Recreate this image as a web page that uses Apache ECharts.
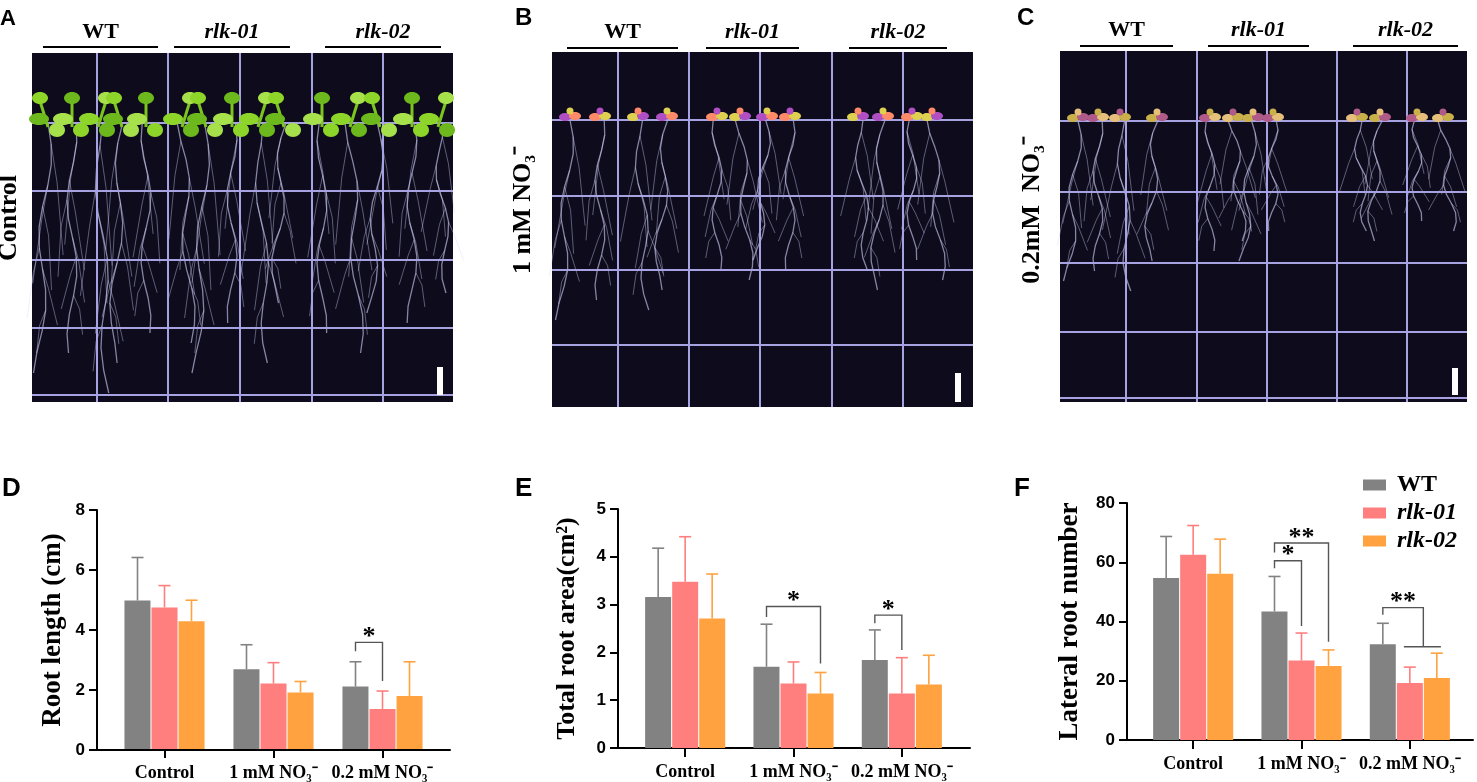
<!DOCTYPE html>
<html>
<head>
<meta charset="utf-8">
<script src="https://cdn.jsdelivr.net/npm/echarts@6/dist/echarts.min.js"></script>
<style>
    html, body { margin: 0; padding: 0; background: #fff; }
    #main { width: 1477px; height: 782px; }
</style>
</head>
<body>
<div id="main"></div>
<script>
    var categories = ['Control', '1 mM NO\u2083\u207B', '0.2 mM NO\u2083\u207B'];
    var genotypes = ['WT', 'rlk-01', 'rlk-02'];
    var colors = ['#828282', '#ff7f7f', '#ffa23f'];

    // D - root length (cm), mean and upper error
    var lenWT = [4.97, 2.67, 2.09], lenWTsd = [1.44, 0.82, 0.83];
    var len01 = [4.74, 2.19, 1.34], len01sd = [0.73, 0.70, 0.60];
    var len02 = [4.28, 1.89, 1.77], len02sd = [0.70, 0.37, 1.15];
    // [category, fromBar, toBar, top, leftEnd, rightEnd, footFrom, footTo, mark]
    var lenSig = [[2, 0, 1, 3.57, 3.27, 2.28, -1, -1, '*']];

    // E - total root area (cm2)
    var areaWT = [3.16, 1.70, 1.84], areaWTsd = [1.02, 0.89, 0.63];
    var area01 = [3.48, 1.35, 1.14], area01sd = [0.94, 0.45, 0.75];
    var area02 = [2.71, 1.14, 1.33], area02sd = [0.93, 0.44, 0.61];
    var areaSig = [[1, 0, 2, 2.96, 2.74, 1.77, -1, -1, '*'],
                   [2, 0, 1, 2.78, 2.61, 2.05, -1, -1, '*']];

    // F - lateral root number
    var latWT = [54.7, 43.4, 32.3], latWTsd = [14.0, 11.8, 7.1];
    var lat01 = [62.5, 26.8, 19.2], lat01sd = [9.9, 9.3, 5.4];
    var lat02 = [56.1, 25.0, 20.9], lat02sd = [11.7, 5.4, 8.4];
    var latSig = [[1, 0, 1, 60.5, 58.0, 38.5, -1, -1, '*'],
                  [1, 0, 2, 66.5, 63.3, 33.2, -1, -1, '**'],
                  [2, 0, 1.5, 44.7, 42.3, 31.5, 0.78, 2.15, '**']];

    var lenTicks = {max: 8, interval: 2};
    var areaTicks = {max: 5, interval: 1};
    var latTicks = {max: 80, interval: 20};

    var BAR_W = 26, STEP = 27;
    var serif = 'Liberation Serif, Times New Roman, serif';
    var sans = 'Liberation Sans, Arial, sans-serif';

    var panels = [
        {means: [lenWT, len01, len02], sds: [lenWTsd, len01sd, len02sd], sig: lenSig, ticks: lenTicks,
            name: 'Root length (cm)', nameSize: 27, gap: 30,
            axisGrid: {left: 97, top: 510, width: 353, height: 240}, barGrid: {left: 110, top: 510, width: 327, height: 240}},
        {means: [areaWT, area01, area02], sds: [areaWTsd, area01sd, area02sd], sig: areaSig, ticks: areaTicks,
            name: 'Total root area(cm\u00B2)', nameSize: 26, gap: 38,
            axisGrid: {left: 618, top: 509, width: 352, height: 239}, barGrid: {left: 631, top: 509, width: 325, height: 239}},
        {means: [latWT, lat01, lat02], sds: [latWTsd, lat01sd, lat02sd], sig: latSig, ticks: latTicks,
            name: 'Lateral root number', nameSize: 27, gap: 43,
            axisGrid: {left: 1127, top: 503, width: 346, height: 237}, barGrid: {left: 1139, top: 503, width: 325, height: 237}}
    ];

    var grids = [], xAxes = [], yAxes = [], series = [];

    panels.forEach(function (p, k) {
        var ga = 2 * k, gb = 2 * k + 1;
        grids.push(p.axisGrid, p.barGrid);

        xAxes.push({
            gridIndex: ga, type: 'value', min: 0, max: 1,
            axisLine: {show: true, onZero: false, lineStyle: {color: '#000', width: 2}},
            axisTick: {show: false}, axisLabel: {show: false}, splitLine: {show: false}
        });
        xAxes.push({
            gridIndex: gb, type: 'category', data: categories,
            axisLine: {show: false},
            axisTick: {show: true, alignWithLabel: true, length: 9, lineStyle: {color: '#000', width: 2}},
            axisLabel: {interval: 0, margin: 15, color: '#000', fontFamily: serif, fontWeight: 'bold', fontSize: 18}
        });

        yAxes.push({
            gridIndex: ga, type: 'value', min: 0, max: p.ticks.max, interval: p.ticks.interval,
            axisLine: {show: true, lineStyle: {color: '#000', width: 2}},
            axisTick: {show: true, length: 8, lineStyle: {color: '#000', width: 2}},
            axisLabel: {margin: 12, color: '#000', fontFamily: sans, fontWeight: 'bold', fontSize: 17},
            splitLine: {show: false},
            name: p.name, nameLocation: 'middle', nameRotate: 90, nameGap: p.gap,
            nameTextStyle: {color: '#000', fontFamily: serif, fontWeight: 'bold', fontSize: p.nameSize}
        });
        yAxes.push({gridIndex: gb, type: 'value', min: 0, max: p.ticks.max, show: false});

        genotypes.forEach(function (g, i) {
            series.push({
                name: g, type: 'bar', xAxisIndex: gb, yAxisIndex: gb,
                barWidth: BAR_W, barGap: '4%',
                itemStyle: {color: colors[i]},
                data: p.means[i]
            });
        });

        // error bars (upper whisker only)
        var errData = [];
        genotypes.forEach(function (g, i) {
            p.means[i].forEach(function (m, c) {
                errData.push([c, i, m, p.sds[i][c]]);
            });
        });
        series.push({
            type: 'custom', xAxisIndex: gb, yAxisIndex: gb, z: 3,
            encode: {x: 0, y: 2},
            data: errData,
            renderItem: function (params, api) {
                var i = api.value(1);
                var lo = api.coord([api.value(0), api.value(2)]);
                var hi = api.coord([api.value(0), api.value(2) + api.value(3)]);
                var x = lo[0] + (i - 1) * STEP;
                var st = {stroke: colors[i], lineWidth: 1.6, fill: 'none'};
                return {type: 'group', children: [
                    {type: 'line', shape: {x1: x, y1: lo[1], x2: x, y2: hi[1]}, style: st},
                    {type: 'line', shape: {x1: x - 6, y1: hi[1], x2: x + 6, y2: hi[1]}, style: st}
                ]};
            }
        });

        // significance brackets
        series.push({
            type: 'custom', xAxisIndex: gb, yAxisIndex: gb, z: 4,
            encode: {x: 0, y: 3},
            data: p.sig.map(function (b) { return b.slice(0, 8); }),
            renderItem: function (params, api) {
                var b = p.sig[params.dataIndex];
                var c0 = api.coord([b[0], b[3]]);
                var xl = c0[0] + (b[1] - 1) * STEP, xr = c0[0] + (b[2] - 1) * STEP;
                var yt = c0[1];
                var yl = api.coord([b[0], b[4]])[1], yr = api.coord([b[0], b[5]])[1];
                var st = {stroke: '#555', lineWidth: 1.4, fill: 'none'};
                var kids = [
                    {type: 'polyline', shape: {points: [[xl, yl], [xl, yt], [xr, yt], [xr, yr]]}, style: st},
                    {type: 'text', x: (xl + xr) / 2, y: yt - 5,
                        style: {text: b[8], fill: '#000', font: 'bold 26px ' + serif,
                            align: 'center', verticalAlign: 'middle', textAlign: 'center', textVerticalAlign: 'middle'}}
                ];
                if (b[6] >= 0) {
                    kids.push({type: 'line', shape: {x1: c0[0] + (b[6] - 1) * STEP, y1: yr, x2: c0[0] + (b[7] - 1) * STEP, y2: yr}, style: st});
                }
                return {type: 'group', children: kids};
            }
        });
    });

    // ---- photo panels (A, B, C) drawn as decoration ----
    var photos = [
        {x: 32, y: 53, w: 421, h: 349, vx: [97, 168, 240, 312, 383], hy: [123, 191, 260, 328, 395],
            plants: [48, 72, 98, 122, 146, 182, 206, 232, 258, 284, 322, 350, 380, 412, 438],
            rootLen: [250, 230, 270, 240, 210, 220, 250, 200, 240, 180, 210, 230, 190, 200, 170],
            leaf: ['#8ed52a', '#6db81c', '#a6e04a'], big: true, bar: [440, 367, 395]},
        {x: 552, y: 52, w: 421, h: 355, vx: [618, 689, 760, 832, 903], hy: [120, 196, 270, 345],
            plants: [570, 600, 638, 667, 717, 740, 767, 790, 858, 883, 912, 932],
            rootLen: [200, 180, 190, 170, 150, 160, 140, 150, 150, 170, 140, 160],
            leaf: ['#b04fc4', '#ff8a6a', '#e0d050'], big: false, bar: [958, 373, 402]},
        {x: 1060, y: 51, w: 407, h: 351, vx: [1126, 1197, 1267, 1337, 1407], hy: [121, 192, 263, 332, 398],
            plants: [1078, 1098, 1120, 1157, 1210, 1233, 1253, 1273, 1357, 1380, 1417, 1443],
            rootLen: [160, 150, 170, 140, 130, 120, 140, 110, 110, 120, 100, 110],
            leaf: ['#c9b04a', '#b05a8a', '#e6c07a'], big: false, bar: [1455, 368, 395]}
    ];

    var graphics = [];
    photos.forEach(function (p) {
        graphics.push({type: 'rect', shape: {x: p.x, y: p.y, width: p.w, height: p.h}, style: {fill: '#0d0b1c'}});
        var yl = p.hy[0];
        p.plants.forEach(function (px, k) {
            var L = p.rootLen[k], n = 12, pts = [];
            for (var s = 0; s <= n; s++) {
                pts.push([px + 5 * Math.sin(s * 0.9 + k) + s * ((k % 3) - 1) * 0.8, yl + s * L / n]);
            }
            graphics.push({type: 'polyline', shape: {points: pts}, style: {stroke: 'rgba(215,215,255,0.6)', lineWidth: 1.3, fill: 'none'}});
            for (var j = 1; j <= 6; j++) {
                var base = pts[Math.min(j * 1.5 | 0, n)];
                var dir = (j + k) % 2 ? 1 : -1;
                var ll = L * (0.5 - j * 0.055);
                graphics.push({type: 'polyline', shape: {points: [base,
                    [base[0] + dir * 6, base[1] + ll * 0.35], [base[0] + dir * (9 + (j % 3) * 3), base[1] + ll]]},
                    style: {stroke: 'rgba(215,215,255,0.4)', lineWidth: 1, fill: 'none'}});
            }
        });
        p.vx.forEach(function (vx) {
            graphics.push({type: 'line', shape: {x1: vx, y1: p.y, x2: vx, y2: p.y + p.h}, style: {stroke: '#a7a3e3', lineWidth: 2}});
        });
        p.hy.forEach(function (hy) {
            graphics.push({type: 'line', shape: {x1: p.x, y1: hy, x2: p.x + p.w, y2: hy}, style: {stroke: '#a7a3e3', lineWidth: 2}});
        });
        p.plants.forEach(function (px, k) {
            var c = p.leaf;
            if (p.big) {
                graphics.push({type: 'line', shape: {x1: px, y1: yl + 4, x2: px + ((k % 3) - 1) * 8, y2: yl - 22}, style: {stroke: '#7cc41f', lineWidth: 3}});
                graphics.push({type: 'ellipse', shape: {cx: px + ((k % 3) - 1) * 8, cy: yl - 25, rx: 8, ry: 6}, style: {fill: c[k % 3]}});
                graphics.push({type: 'ellipse', shape: {cx: px - 9, cy: yl - 4, rx: 10, ry: 6}, style: {fill: c[(k + 1) % 3]}});
                graphics.push({type: 'ellipse', shape: {cx: px + 9, cy: yl + 7, rx: 8, ry: 7}, style: {fill: c[(k + 2) % 3]}});
            } else {
                graphics.push({type: 'ellipse', shape: {cx: px - 5, cy: yl - 3, rx: 6, ry: 4}, style: {fill: c[k % 3]}});
                graphics.push({type: 'ellipse', shape: {cx: px + 5, cy: yl - 4, rx: 6, ry: 4}, style: {fill: c[(k + 1) % 3]}});
                graphics.push({type: 'circle', shape: {cx: px, cy: yl - 9, r: 3.5}, style: {fill: c[(k + 2) % 3]}});
            }
        });
        graphics.push({type: 'rect', shape: {x: p.bar[0] - 3, y: p.bar[1], width: 6, height: p.bar[2] - p.bar[1]}, style: {fill: '#fff'}});
    });

    // genotype labels with underline above the photos
    var photoLabels = [
        {y: 43, line: 47, spans: [[43, 158], [174, 290], [325, 441]]},
        {y: 43, line: 48, spans: [[567, 678], [706, 799], [849, 947]]},
        {y: 41, line: 46, spans: [[1080, 1173], [1208, 1309], [1353, 1458]]}
    ];
    photoLabels.forEach(function (pl) {
        pl.spans.forEach(function (sp, i) {
            graphics.push({type: 'text', x: (sp[0] + sp[1]) / 2, y: pl.y,
                style: {text: genotypes[i], fill: '#000', font: (i ? 'italic ' : '') + 'bold 22px ' + serif,
                    align: 'center', verticalAlign: 'bottom', textAlign: 'center', textVerticalAlign: 'bottom'}});
            graphics.push({type: 'line', shape: {x1: sp[0], y1: pl.line, x2: sp[1], y2: pl.line}, style: {stroke: '#000', lineWidth: 2}});
        });
    });

    var sideLabels = [['Control', 9, 218], ['1 mM NO\u2083\u207B', 523, 210], ['0.2mM  NO\u2083\u207B', 1032, 210]];
    sideLabels.forEach(function (s) {
        graphics.push({type: 'text', x: s[1], y: s[2], rotation: Math.PI / 2,
            style: {text: s[0], fill: '#000', font: 'bold 26px ' + serif,
                align: 'center', verticalAlign: 'middle', textAlign: 'center', textVerticalAlign: 'middle'}});
    });

    var letters = [['A', 0, 8, 22], ['B', 515, 6, 24], ['C', 1017, 6, 24], ['D', 2, 476, 26], ['E', 515, 476, 26], ['F', 1014, 476, 26]];
    letters.forEach(function (l) {
        graphics.push({type: 'text', x: l[1], y: l[2],
            style: {text: l[0], fill: '#000', font: 'bold ' + l[3] + 'px ' + sans, align: 'left', verticalAlign: 'top',
                textAlign: 'left', textVerticalAlign: 'top'}});
    });

    var myChart = echarts.init(document.getElementById('main'));
    var option = {
        animation: false,
        grid: grids,
        xAxis: xAxes,
        yAxis: yAxes,
        legend: {
            orient: 'vertical', left: 1358, top: 468, icon: 'rect',
            itemWidth: 23, itemHeight: 11, itemGap: 4, selectedMode: false,
            textStyle: {color: '#000', fontFamily: serif, fontWeight: 'bold', fontSize: 24, padding: [0, 0, 0, 6]},
            data: [
                {name: 'WT'},
                {name: 'rlk-01', textStyle: {fontStyle: 'italic'}},
                {name: 'rlk-02', textStyle: {fontStyle: 'italic'}}
            ]
        },
        graphic: graphics,
        series: series
    };
    myChart.setOption(option);
</script>
</body>
</html>
